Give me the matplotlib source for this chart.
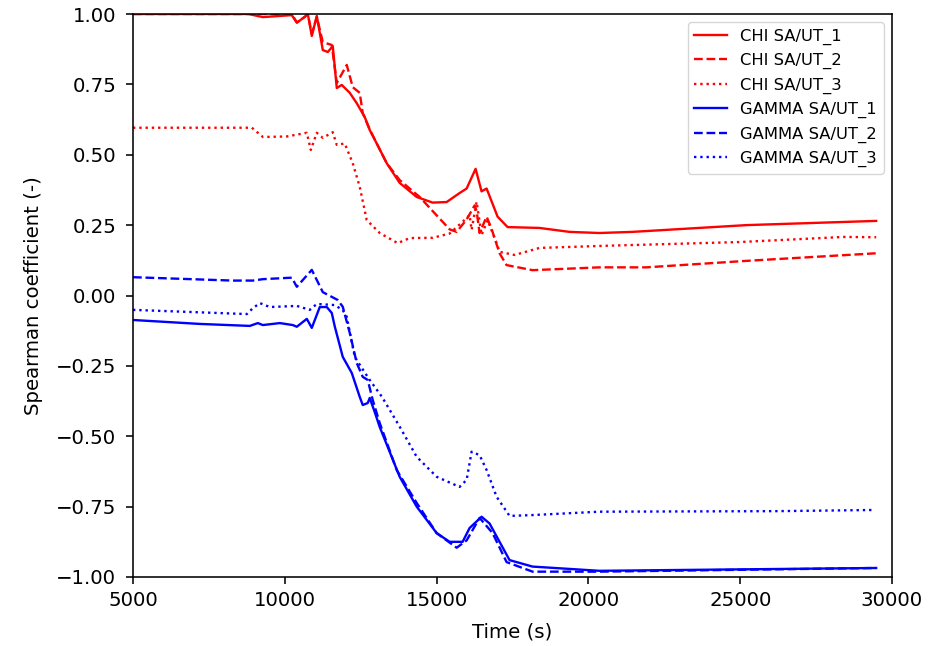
import numpy as np
import matplotlib
matplotlib.use("Agg")
import matplotlib.pyplot as plt

# values (time in s, Spearman coefficient)
chi1_t = [5000, 8800, 9277, 10231, 10396, 10659, 10758, 10889, 11054, 11251, 11416, 11580, 11712,
          11876, 12140, 12370, 12633, 12797, 13028, 13357, 13784, 14344, 14870, 15331, 15758, 15989,
          16285, 16480, 16647, 17009, 17338, 18390, 19377, 20364, 21450, 25200, 29478]
chi1_v = [1.0, 1.0, 0.989, 0.996, 0.969, 0.99, 1.0, 0.922, 0.993, 0.872, 0.865, 0.886, 0.737,
          0.748, 0.72, 0.683, 0.634, 0.588, 0.54, 0.47, 0.40, 0.35, 0.33, 0.332, 0.364, 0.38,
          0.45, 0.37, 0.38, 0.28, 0.243, 0.24, 0.226, 0.222, 0.226, 0.25, 0.265]

chi2_t = [5000, 10231, 10396, 10659, 10758, 10889, 11054, 11251, 11547, 11712, 12041, 12238, 12468,
          12567, 12797, 13028, 13357, 13784, 14442, 14870, 15429, 15660, 15989, 16252, 16318, 16416,
          16647, 16800, 17074, 17305, 18160, 20364, 21911, 25200, 29478]
chi2_v = [1.0, 1.0, 0.97, 0.99, 1.0, 0.93, 0.99, 0.90, 0.89, 0.755, 0.819, 0.74, 0.72,
          0.648, 0.59, 0.54, 0.47, 0.41, 0.35, 0.30, 0.235, 0.226, 0.27, 0.32, 0.30, 0.222,
          0.28, 0.24, 0.15, 0.108, 0.09, 0.10, 0.10, 0.123, 0.15]

chi3_t = [5000, 8915, 9280, 10066, 10725, 10857, 11054, 11251, 11580, 11712, 11975, 12238, 12468,
          12699, 13126, 13719, 14113, 14870, 15429, 15989, 16087, 16153, 16318, 16482, 16680, 16976,
          17074, 17570, 18390, 20364, 25000, 28400, 29478]
chi3_v = [0.596, 0.596, 0.563, 0.565, 0.578, 0.517, 0.578, 0.56, 0.58, 0.535, 0.54, 0.47, 0.386,
          0.268, 0.222, 0.186, 0.204, 0.205, 0.22, 0.275, 0.286, 0.233, 0.333, 0.215, 0.268, 0.186,
          0.155, 0.144, 0.169, 0.176, 0.19, 0.208, 0.207]

gam1_t = [5000, 7204, 8849, 9112, 9277, 9836, 10264, 10396, 10725, 10889, 11152, 11383, 11547,
          11646, 11909, 12205, 12468, 12567, 12732, 12797, 12962, 13126, 13784, 14344, 15002, 15429,
          15857, 16087, 16482, 16745, 17403, 18160, 20364, 29478]
gam1_v = [-0.087, -0.101, -0.108, -0.098, -0.105, -0.098, -0.105, -0.111, -0.083, -0.115, -0.041, -0.041, -0.062,
          -0.11, -0.218, -0.275, -0.36, -0.389, -0.382, -0.364, -0.414, -0.467, -0.644, -0.75, -0.844, -0.875,
          -0.875, -0.826, -0.786, -0.81, -0.94, -0.963, -0.978, -0.968]

gam2_t = [5000, 8290, 8948, 9277, 10165, 10231, 10396, 10889, 11251, 11744, 11909, 12140, 12370,
          12567, 12732, 12896, 13126, 13686, 14344, 15002, 15660, 15989, 16416, 16844, 17305, 18160,
          20364, 29478]
gam2_v = [0.065, 0.053, 0.053, 0.058, 0.063, 0.063, 0.031, 0.091, 0.012, -0.016, -0.04, -0.133, -0.24,
          -0.289, -0.30, -0.371, -0.453, -0.62, -0.737, -0.844, -0.896, -0.87, -0.79, -0.844, -0.947, -0.981,
          -0.981, -0.968]

gam3_t = [5000, 8750, 8948, 9178, 9507, 10396, 10823, 11054, 11646, 11909, 12041, 12304, 12534,
          12797, 13200, 13784, 14344, 15002, 15758, 15989, 16153, 16416, 16647, 16976, 17403, 18160,
          20364, 26286, 29346]
gam3_v = [-0.051, -0.066, -0.045, -0.027, -0.041, -0.037, -0.051, -0.03, -0.034, -0.052, -0.076, -0.218, -0.257,
          -0.30, -0.36, -0.466, -0.573, -0.644, -0.68, -0.655, -0.555, -0.567, -0.62, -0.715, -0.783, -0.78,
          -0.768, -0.766, -0.762]

# the reference looks like default matplotlib scaled up ~1.42x
s = 1.42
plt.rcParams['font.size'] = 10 * s
plt.rcParams['legend.fontsize'] = 'small'
plt.rcParams['lines.linewidth'] = 1.7
plt.rcParams['axes.linewidth'] = 0.8 * s
plt.rcParams['axes.labelpad'] = 8
for ax_name in ['xtick', 'ytick']:
    plt.rcParams[ax_name + '.major.size'] = 5
    plt.rcParams[ax_name + '.major.width'] = 0.8 * s
    plt.rcParams[ax_name + '.major.pad'] = 7
plt.rcParams['xtick.major.pad'] = 5

fig = plt.figure(figsize=(9.29, 6.46), dpi=100)
ax = fig.add_axes([133 / 929, 69 / 646, 759 / 929, 563 / 646])

ax.plot(chi1_t, chi1_v, color='red', linestyle='-', label='CHI SA/UT_1')
ax.plot(chi2_t, chi2_v, color='red', linestyle='--', label='CHI SA/UT_2')
ax.plot(chi3_t, chi3_v, color='red', linestyle=':', label='CHI SA/UT_3')
ax.plot(gam1_t, gam1_v, color='blue', linestyle='-', label='GAMMA SA/UT_1')
ax.plot(gam2_t, gam2_v, color='blue', linestyle='--', label='GAMMA SA/UT_2')
ax.plot(gam3_t, gam3_v, color='blue', linestyle=':', label='GAMMA SA/UT_3')

ax.set_xlim(5000, 30000)
ax.set_ylim(-1, 1)
ax.set_xlabel("Time (s)", labelpad=9)
ax.set_ylabel("Spearman coefficient (-)", labelpad=9)
ax.legend(loc='upper right')

fig.savefig("out.png", dpi=100)
